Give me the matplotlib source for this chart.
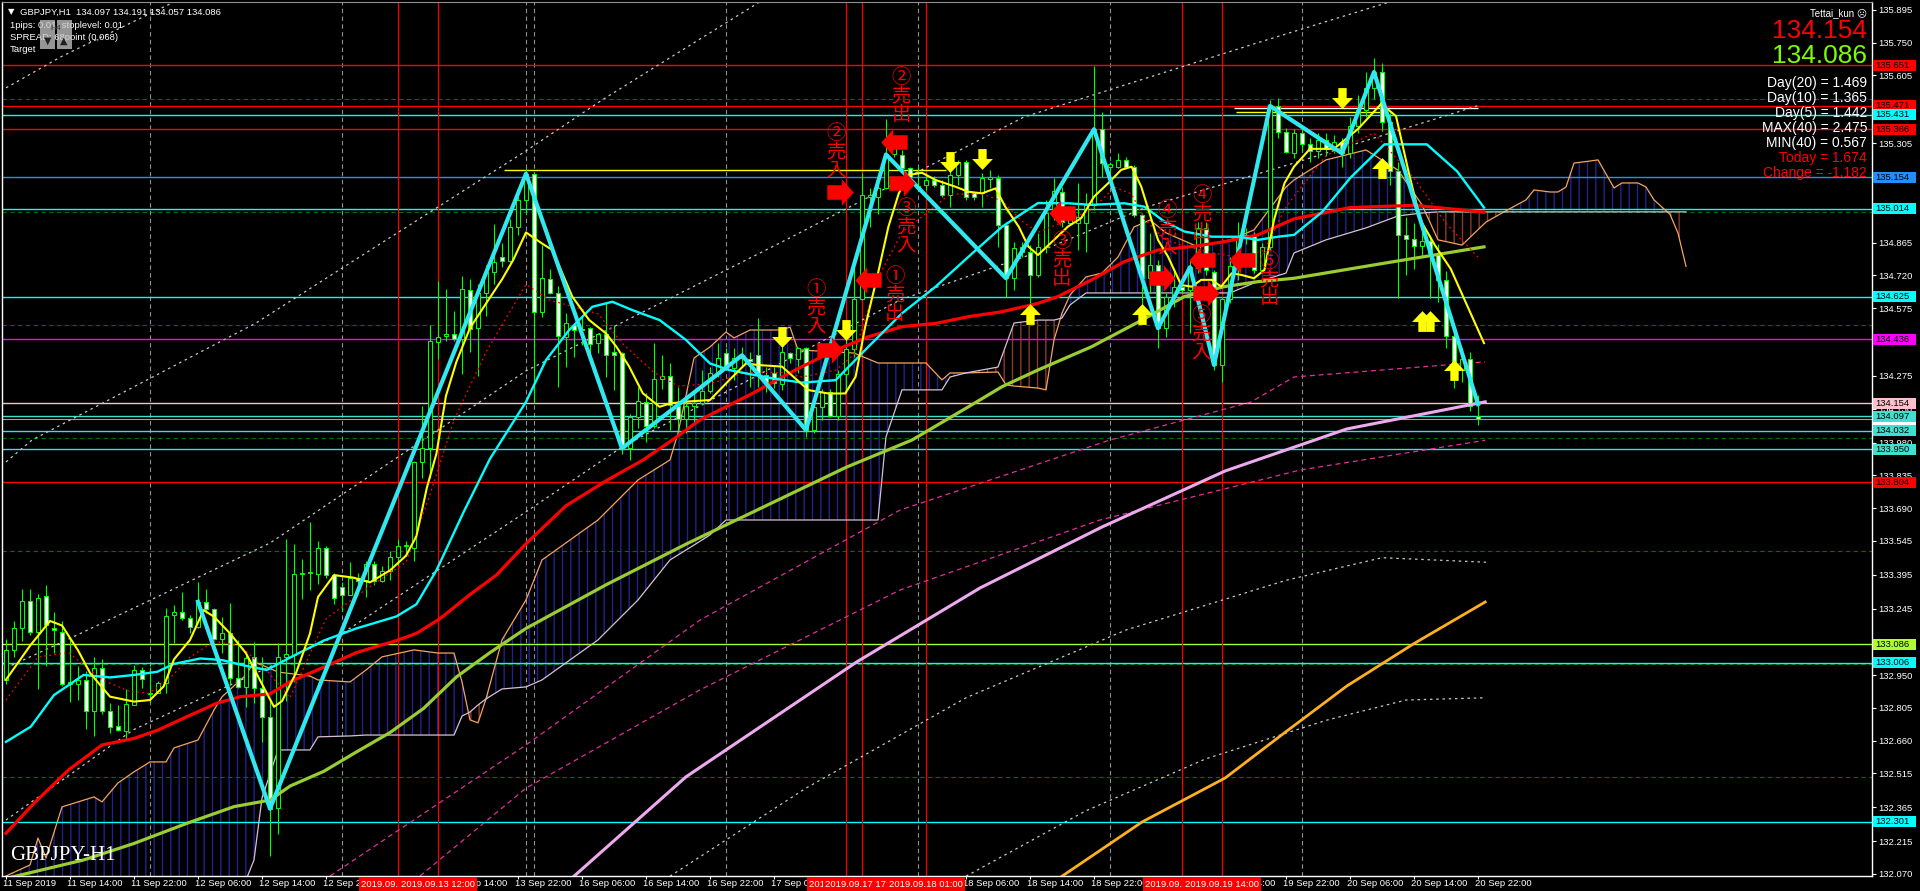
import numpy as np
import matplotlib
matplotlib.use('Agg')
import matplotlib.pyplot as plt
import matplotlib.transforms as mtransforms
from matplotlib.path import Path
from matplotlib.patches import Rectangle

plt.rcParams['font.family'] = ['Liberation Sans', 'DejaVu Sans']
plt.rcParams['hatch.linewidth'] = 1.0

# GBPJPY H1, bar 0 = 11 Sep 2019 06:00 (weekend bars skipped)
opens = [
    132.93, 133.06, 133.16, 133.28, 133.14, 133.30, 133.16, 133.14, 132.92, 132.91,
    132.93, 132.79, 132.98, 132.79, 132.725, 132.704, 132.818, 132.973, 132.873, 132.873,
    132.917, 133.218, 133.231, 133.202, 133.162, 133.275, 133.241, 133.109, 133.138, 132.936,
    132.899, 133.029, 132.892, 132.766, 132.363, 133.032, 133.039, 133.399, 133.404, 133.399,
    133.511, 133.393, 133.339, 133.307, 133.382, 133.371, 133.440, 133.367, 133.410, 133.474,
    133.522, 133.511, 133.893, 133.957, 134.427, 134.451, 134.460, 134.440, 134.653, 134.487,
    134.644, 134.734, 134.799, 134.784, 134.934, 135.052, 135.168, 134.558, 134.702, 134.643,
    134.445, 134.500, 134.484, 134.485, 134.419, 134.459, 134.379, 134.378, 133.954, 134.091,
    134.161, 134.053, 134.259, 134.276, 134.141, 134.082, 134.141, 134.156, 134.209, 134.289,
    134.374, 134.311, 134.355, 134.348, 134.367, 134.279, 134.286, 134.239, 134.374, 134.348,
    134.397, 134.035, 134.138, 134.205, 134.097, 134.283, 134.392, 134.614, 135.068, 135.068,
    135.105, 135.255, 135.252, 135.193, 135.105, 135.120, 135.142, 135.120, 135.075, 135.164,
    135.220, 135.083, 135.083, 135.145, 135.149, 134.943, 134.707, 134.847, 134.822, 134.722,
    134.844, 134.995, 135.091, 134.953, 134.953, 134.950, 135.032, 135.367, 135.201, 135.198,
    135.231, 135.198, 134.987, 134.707, 134.764, 134.486, 134.626, 134.670, 134.655, 134.751,
    134.930, 134.736, 134.323, 134.614, 134.762, 134.894, 134.900, 134.744, 134.844, 135.470,
    135.356, 135.26, 135.35, 135.30, 135.27, 135.32, 135.28, 135.31, 135.26, 135.38,
    135.45, 135.55, 135.62, 135.40, 135.18, 134.90, 134.88, 134.85, 134.87, 134.82,
    134.70, 134.45, 134.30, 134.35, 134.097]
highs = [
    133.11, 133.19, 133.33, 133.33, 133.31, 133.35, 133.23, 133.19, 133.12, 132.99,
    132.97, 133.03, 133.02, 132.825, 132.818, 132.887, 132.993, 132.988, 132.988, 132.926,
    133.246, 133.261, 133.320, 133.216, 133.364, 133.330, 133.246, 133.209, 133.268, 133.106,
    133.047, 133.097, 133.032, 132.835, 133.093, 133.554, 133.532, 133.464, 133.629, 133.543,
    133.522, 133.404, 133.361, 133.453, 133.404, 133.457, 133.457, 133.432, 133.500, 133.554,
    133.543, 133.897, 134.140, 134.502, 134.696, 134.659, 134.563, 134.717, 134.702, 134.681,
    134.766, 134.949, 134.863, 134.970, 135.067, 135.196, 135.171, 134.854, 134.746, 134.673,
    134.552, 134.510, 134.537, 134.493, 134.466, 134.596, 134.500, 134.382, 134.106, 134.227,
    134.198, 134.419, 134.367, 134.330, 134.227, 134.183, 134.198, 134.301, 134.316, 134.419,
    134.397, 134.397, 134.404, 134.382, 134.530, 134.316, 134.316, 134.401, 134.382, 134.401,
    134.404, 134.146, 134.219, 134.219, 134.301, 134.485, 134.758, 135.171, 135.105, 135.120,
    135.410, 135.304, 135.275, 135.201, 135.201, 135.171, 135.160, 135.142, 135.186, 135.230,
    135.230, 135.090, 135.171, 135.186, 135.164, 134.957, 134.869, 134.869, 134.854, 134.906,
    135.054, 135.150, 135.113, 135.017, 135.130, 135.083, 135.647, 135.445, 135.223, 135.260,
    135.246, 135.209, 134.995, 134.906, 134.788, 134.641, 134.744, 134.677, 134.788, 134.958,
    134.958, 134.744, 134.626, 134.803, 134.958, 134.930, 134.914, 134.862, 135.496, 135.504,
    135.371, 135.37, 135.38, 135.33, 135.35, 135.35, 135.34, 135.33, 135.42, 135.52,
    135.62, 135.68, 135.66, 135.44, 135.22, 134.98, 134.95, 134.92, 134.90, 134.86,
    134.74, 134.48, 134.40, 134.38, 134.191]
lows = [
    132.91, 133.03, 133.10, 133.13, 132.89, 132.99, 133.05, 132.90, 132.83, 132.84,
    132.71, 132.68, 132.78, 132.695, 132.704, 132.663, 132.818, 132.892, 132.833, 132.870,
    132.870, 133.091, 133.194, 133.135, 133.157, 133.224, 133.106, 133.047, 132.906, 132.892,
    132.811, 132.825, 132.656, 132.148, 132.245, 132.835, 132.921, 133.286, 133.329, 133.354,
    133.382, 133.264, 133.232, 133.303, 133.339, 133.296, 133.350, 133.361, 133.371, 133.436,
    133.479, 133.457, 133.822, 133.822, 134.348, 134.430, 134.430, 134.284, 134.380, 134.273,
    134.541, 134.681, 134.756, 134.777, 134.899, 135.002, 134.153, 134.534, 134.637, 134.227,
    134.313, 134.360, 134.411, 134.345, 134.375, 134.271, 134.212, 133.929, 133.902, 134.043,
    133.984, 134.043, 134.215, 134.035, 134.035, 134.020, 134.072, 134.146, 134.198, 134.268,
    134.301, 134.256, 134.316, 134.227, 134.227, 134.205, 134.220, 134.212, 134.330, 134.286,
    134.006, 134.020, 134.079, 134.094, 134.079, 134.197, 134.360, 134.611, 134.935, 134.992,
    135.100, 135.245, 135.186, 135.149, 135.098, 135.098, 135.112, 135.068, 135.021, 135.120,
    135.053, 135.053, 135.021, 135.105, 134.847, 134.625, 134.655, 134.802, 134.581, 134.714,
    134.818, 134.965, 134.936, 134.943, 134.832, 134.825, 135.009, 135.157, 135.172, 135.194,
    135.194, 134.980, 134.552, 134.640, 134.397, 134.449, 134.581, 134.641, 134.463, 134.729,
    134.720, 134.301, 134.250, 134.596, 134.700, 134.860, 134.729, 134.729, 134.832, 135.327,
    135.260, 135.24, 135.27, 135.22, 135.24, 135.25, 135.26, 135.20, 135.24, 135.35,
    135.42, 135.50, 135.36, 135.12, 134.62, 134.72, 134.75, 134.80, 134.62, 134.60,
    134.40, 134.22, 134.25, 134.12, 134.057]
closes = [
    133.06, 133.16, 133.28, 133.14, 133.29, 133.17, 133.15, 132.91, 132.91, 132.93,
    132.79, 132.98, 132.79, 132.72, 132.707, 132.821, 132.973, 132.932, 132.867, 132.914,
    133.213, 133.231, 133.202, 133.162, 133.275, 133.241, 133.109, 133.138, 132.936, 132.899,
    133.024, 132.892, 132.763, 132.359, 133.032, 133.043, 133.399, 133.404, 133.406, 133.511,
    133.393, 133.290, 133.307, 133.382, 133.367, 133.440, 133.365, 133.410, 133.474, 133.522,
    133.526, 133.893, 133.957, 134.430, 134.449, 134.460, 134.440, 134.659, 134.483, 134.644,
    134.734, 134.781, 134.784, 134.934, 135.052, 135.170, 134.558, 134.707, 134.640, 134.451,
    134.507, 134.478, 134.478, 134.416, 134.459, 134.367, 134.367, 133.954, 134.091, 134.165,
    134.053, 134.259, 134.274, 134.146, 134.082, 134.141, 134.156, 134.209, 134.289, 134.355,
    134.304, 134.355, 134.366, 134.342, 134.283, 134.242, 134.242, 134.379, 134.352, 134.397,
    134.035, 134.135, 134.205, 134.097, 134.283, 134.392, 134.614, 135.075, 135.075, 135.105,
    135.255, 135.282, 135.193, 135.157, 135.115, 135.142, 135.120, 135.075, 135.164, 135.220,
    135.068, 135.068, 135.149, 135.154, 134.943, 134.707, 134.842, 134.822, 134.721, 134.844,
    134.995, 135.095, 134.958, 134.973, 134.977, 135.032, 135.367, 135.216, 135.212, 135.231,
    135.198, 134.987, 134.707, 134.764, 134.486, 134.626, 134.670, 134.655, 134.756, 134.930,
    134.745, 134.323, 134.614, 134.762, 134.894, 134.900, 134.744, 134.844, 135.470, 135.356,
    135.268, 135.35, 135.30, 135.27, 135.32, 135.28, 135.31, 135.26, 135.38, 135.45,
    135.55, 135.62, 135.40, 135.18, 134.90, 134.88, 134.85, 134.87, 134.82, 134.70,
    134.45, 134.30, 134.35, 134.14, 134.086]

# indicator lines (bar index, price)
yellow_idx = [0, 3, 5.5, 7, 9, 10.5, 13, 16, 18, 19.7, 21, 23, 24.7, 26, 28, 30, 32.6, 33.5, 34.5,
              36.3, 38, 39, 41, 43.4, 45.5, 48, 50, 51.3, 52.6, 53.8, 55, 56.3, 58, 60, 62, 63.4,
              65, 67, 68.3, 70.8, 72.9, 75, 76.3, 77.9, 79.6, 81.7, 83, 85, 88, 90.4, 92.5, 94,
              97, 100.3, 102.8, 104.9, 106.2, 107.4, 109, 110.3, 111.6, 112.8, 114.5, 116.2,
              118.7, 120.3, 122, 123.7, 124.9, 126.6, 127.8, 129, 131, 132.75, 134.4, 136,
              137.75, 139.4, 140.7, 141.9, 143.2, 144, 145.25, 146.9, 148.2, 149.4, 150.7,
              151.9, 153.2, 154.4, 156, 157.3, 158.5, 159.8, 161, 163, 166, 169, 171.9, 173.75,
              175.3, 176.8, 178.6, 180.6, 183, 184.75]
yellow_val = [132.93, 133.08, 133.19, 133.17, 133.06, 132.96, 132.855, 132.833, 132.84, 132.9,
              133.02, 133.106, 133.238, 133.209, 133.135, 133.047, 132.87, 132.81, 132.835,
              132.964, 133.135, 133.296, 133.393, 133.382, 133.361, 133.414, 133.479, 133.565,
              133.779, 133.93, 134.187, 134.337, 134.487, 134.595, 134.702, 134.788, 134.91,
              134.861, 134.832, 134.625, 134.522, 134.463, 134.404, 134.316, 134.198, 134.138,
              134.153, 134.161, 134.168, 134.256, 134.33, 134.323, 134.316, 134.212, 134.197,
              134.197, 134.271, 134.493, 134.729, 134.935, 135.083, 135.164, 135.174, 135.142,
              135.112, 135.09, 135.083, 135.105, 135.024, 134.935, 134.847, 134.81, 134.877,
              134.936, 134.973, 135.068, 135.127, 135.187, 135.201, 135.113, 134.965, 134.877,
              134.803, 134.677, 134.67, 134.7, 134.7, 134.67, 134.729, 134.722, 134.707, 134.744,
              134.965, 135.127, 135.201, 135.28, 135.28, 135.368, 135.479, 135.425, 135.182,
              134.965, 134.854, 134.748, 134.558, 134.42]

cyan_idx = [0, 3.1, 6, 9.7, 13, 16, 18.9, 21, 24.3, 27, 29.5, 32.6, 35.5, 39.7, 43.8, 48.8, 51.3,
            53.8, 57.2, 60.5, 65, 67.5, 70.4, 73.3, 75.8, 78.3, 81.7, 85, 88, 90.4, 92.5, 95.8,
            99.5, 103.7, 107.8, 112, 116.2, 120.3, 124.5, 129, 132.75, 135.7, 139.8, 142.3,
            144.8, 147.3, 150.7, 154, 156.5, 159, 161, 164.5, 168, 172.3, 177.6, 181.4, 184.75]
cyan_val = [132.655, 132.722, 132.862, 132.951, 132.94, 132.951, 132.965, 133.0, 133.024, 133.017,
            132.995, 132.973, 133.028, 133.103, 133.157, 133.21, 133.264, 133.414, 133.672,
            133.908, 134.16, 134.345, 134.478, 134.581, 134.603, 134.566, 134.522, 134.434,
            134.33, 134.301, 134.286, 134.264, 134.245, 134.256, 134.404, 134.552, 134.67,
            134.802, 134.935, 135.04, 135.039, 135.032, 135.039, 135.024, 134.958, 134.914,
            134.891, 134.891, 134.877, 134.891, 134.899, 135.0, 135.15, 135.3, 135.3, 135.18,
            135.02]

red_idx = [0, 3.5, 7.8, 12, 16, 19, 22.6, 26.3, 29.3, 33, 35.5, 39.7, 43.8, 48.8, 51.3, 54.25, 58,
           61.3, 65, 70, 75, 79.6, 83.3, 86.7, 90, 93.3, 97, 99.5, 103.7, 107.8, 112, 116.2, 120.3,
           124.5, 129, 131.5, 135.7, 139.8, 144, 148.2, 152.3, 156.5, 161, 168, 176, 184.75]
red_val = [132.25, 132.383, 132.53, 132.641, 132.67, 132.707, 132.766, 132.825, 132.855, 132.867,
           132.921, 132.985, 133.05, 133.103, 133.135, 133.2, 133.307, 133.393, 133.532, 133.7,
           133.81, 133.902, 133.991, 134.079, 134.138, 134.197, 134.27, 134.316, 134.389, 134.448,
           134.493, 134.507, 134.537, 134.559, 134.596, 134.626, 134.7, 134.781, 134.832, 134.847,
           134.869, 134.899, 134.97, 135.02, 135.03, 135.0]

olive_idx = [0, 9.7, 16, 22.6, 28.5, 33, 35.5, 39.7, 43.8, 48, 52.2, 56.3, 60.5, 65, 75, 85, 95,
             105, 113.25, 120.3, 124.5, 129, 135.7, 142, 147.3, 152.3, 156.5, 161, 172.5, 184.75]
olive_val = [132.05, 132.132, 132.205, 132.294, 132.368, 132.397, 132.459, 132.524, 132.61,
             132.696, 132.803, 132.942, 133.05, 133.157, 133.35, 133.53, 133.7, 133.87, 133.991,
             134.138, 134.227, 134.301, 134.404, 134.522, 134.626, 134.67, 134.692, 134.707,
             134.775, 134.846]

pink_idx = [71, 85, 106.4, 121.75, 137, 152.4, 167.6, 184.9]
pink_val = [132.06, 132.5, 133.01, 133.336, 133.606, 133.854, 134.04, 134.16]

orange_idx = [132, 142, 152.4, 160, 167.6, 176, 184.9]
orange_val = [132.06, 132.3, 132.495, 132.7, 132.902, 133.09, 133.274]

reddot_idx = [0, 4, 7.8, 12, 15.3, 17.8, 20.3, 23, 26, 29.3, 32.6, 35.5, 40, 45, 50, 53, 56, 60,
              65, 68, 74, 77, 81, 84, 88, 92.5, 97, 99.5, 103.7, 106, 109, 112, 114.5, 118, 122,
              124.5, 127, 129, 135.7, 138.6, 140.7, 142.3, 144.8, 147.3, 150.7, 154, 157.3,
              159.8, 161, 165, 171, 176, 180, 184]
reddot_val = [132.84, 133.03, 133.05, 132.93, 132.88, 132.87, 132.93, 133.03, 133.1, 133.08,
              132.97, 132.85, 133.2, 133.33, 133.45, 133.75, 134.08, 134.38, 134.68, 134.61,
              134.55, 134.42, 134.29, 134.23, 134.24, 134.29, 134.29, 134.27, 134.30, 134.37,
              134.71, 134.91, 134.98, 135.08, 135.08, 135.05, 134.96, 134.91, 135.01, 135.11,
              135.08, 134.97, 134.88, 134.85, 134.82, 134.80, 134.83, 135.01, 135.07, 135.25,
              135.35, 135.15, 134.95, 134.8]

zigzag_idx = [24, 33, 65, 77, 92, 100, 110, 125, 136, 144, 148, 151, 158, 167, 171, 184]
zigzag_val = [133.275, 132.359, 135.170, 133.954, 134.366, 134.035, 135.255, 134.707, 135.367,
              134.486, 134.756, 134.323, 135.470, 135.26, 135.62, 134.15]

# dotted channel / envelope lines
w1_idx, w1_val = [0, 7, 21], [135.55, 135.69, 135.93]
w2_idx, w2_val = [0, 3.25, 31.25, 65, 74.5, 94.6], [133.894, 133.991, 134.509, 135.271, 135.496, 135.939]
w3_idx, w3_val = [0, 7.6, 33, 65, 97, 127.25, 156.4, 173.75], [132.982, 133.106, 133.535, 134.297, 134.868, 135.421, 135.749, 135.939]
w4_idx, w4_val = [0, 15.9, 42.1, 65, 77, 111.75, 129, 142.6, 161, 184.25], [132.309, 132.708, 133.137, 133.673, 133.960, 134.611, 134.823, 135.023, 135.217, 135.474]
l1_idx, l1_val = [83, 100, 120, 140, 160, 172, 185], [132.06, 132.45, 132.85, 133.15, 133.37, 133.47, 133.45]
l2_idx, l2_val = [120, 135, 150, 165, 175, 185], [132.06, 132.35, 132.58, 132.75, 132.84, 132.85]
m1_idx, m1_val = [40.5, 65, 86.75, 111.75, 138, 155.6, 161, 184.9], [132.061, 132.641, 133.194, 133.681, 133.991, 134.159, 134.27, 134.337]
m2_idx, m2_val = [51.75, 65, 86.75, 111.75, 136.75, 161.75, 184.9], [132.061, 132.45, 132.885, 133.327, 133.637, 133.858, 133.99]

# ichimoku cloud: span A (sandy brown) and span B (thistle)
cloud_idx = [0, 3, 4, 5, 7, 11, 12, 14, 16, 18, 20, 21, 24, 26, 27, 30, 31, 32, 34, 38, 39, 43, 45,
             47, 51, 54, 56, 57, 58, 59, 60, 62, 65, 67, 74, 79, 83, 84, 86, 88, 90, 91, 93, 97,
             98, 99, 106, 109, 110, 112, 115, 117, 118, 120, 124, 125, 126, 129, 130, 131, 132,
             133, 135, 137, 139, 141, 143, 145, 149, 153, 156, 160, 161, 165, 170, 174, 177, 179,
             182, 185, 187, 190, 191, 193, 194, 195, 196, 198, 199, 201, 202, 204, 205, 206, 208,
             209, 210]
span_a = [132.061, 132.110, 132.229, 132.141, 132.367, 132.411, 132.389, 132.473, 132.522, 132.566,
          132.566, 132.628, 132.663, 132.796, 132.854, 132.951, 133.008, 132.995, 132.964, 132.946,
          132.929, 132.920, 132.973, 133.031, 133.062, 133.048, 133.048, 132.920, 132.752, 132.739,
          132.845, 133.106, 133.283, 133.460, 133.637, 133.814, 133.903, 134.022, 134.354, 134.403,
          134.469, 134.443, 134.478, 134.478, 134.491, 134.390, 134.376, 134.332, 134.332, 134.332,
          134.332, 134.257, 134.288, 134.288, 134.292, 134.235, 134.230, 134.221, 134.213, 134.434,
          134.553, 134.633, 134.713, 134.730, 134.801, 134.934, 134.965, 134.908, 134.846, 134.877,
          134.921, 135.111, 135.142, 135.231, 135.275, 135.186, 135.032, 134.877, 134.854, 134.956,
          134.996, 135.054, 135.098, 135.089, 135.089, 135.111, 135.217, 135.226, 135.231, 135.107,
          135.129, 135.129, 135.111, 135.054, 134.990, 134.907, 134.760]
span_b = [131.955, 131.955, 131.955, 131.955, 131.955, 131.955, 131.955, 131.955, 131.955, 131.955,
          131.955, 131.955, 131.955, 131.955, 131.955, 132.043, 132.132, 132.406, 132.619, 132.619,
          132.677, 132.681, 132.685, 132.685, 132.685, 132.685, 132.685, 132.769, 132.787, 132.818,
          132.845, 132.889, 132.898, 132.929, 133.106, 133.283, 133.460, 133.482, 133.526, 133.571,
          133.637, 133.637, 133.637, 133.637, 133.637, 133.637, 133.637, 133.637, 134.005, 134.213,
          134.213, 134.213, 134.270, 134.288, 134.314, 134.412, 134.509, 134.522, 134.522, 134.522,
          134.531, 134.589, 134.642, 134.642, 134.642, 134.642, 134.642, 134.642, 134.642, 134.642,
          134.686, 134.730, 134.819, 134.877, 134.930, 134.983, 134.996, 135.001, 135.001, 135.001,
          135.001, 135.001, 135.001, 135.001, 135.001, 135.001, 135.001, 135.001, 135.001, 135.001,
          135.001, 135.001, 135.001, 135.001, 135.001, 135.001, 135.001]

# horizontal price levels with right-axis labels
level_prices = [135.651, 135.471, 135.431, 135.366, 135.154, 135.014, 134.625, 134.436, 134.154,
                134.097, 134.032, 133.950, 133.804, 133.086, 133.006, 132.301]
level_colors = ['#FF0000', '#FF0000', '#00FFFF', '#FF0000', '#1E90FF', '#00FFFF', '#00FFFF',
                '#FF00FF', '#FFC0CB', '#40E0D0', '#40E0D0', '#40E0D0', '#FF0000', '#ADFF2F',
                '#00FFFF', '#00FFFF']
round_levels = [132.5, 133.0, 133.5, 134.0, 134.5, 135.0, 135.5]
bid_price = 134.086

price_ticks = [135.895, 135.750, 135.605, 135.455, 135.305, 135.160, 135.010, 134.865, 134.720,
               134.575, 134.425, 134.275, 134.130, 133.980, 133.835, 133.690, 133.545, 133.395,
               133.245, 133.100, 132.950, 132.805, 132.660, 132.515, 132.365, 132.215, 132.070]
time_tick_idx = list(range(0, 185, 8))
time_tick_labels = ['11 Sep 2019', '11 Sep 14:00', '11 Sep 22:00', '12 Sep 06:00', '12 Sep 14:00',
                    '12 Sep 22:00', '13 Sep 06:00', '13 Sep 14:00', '13 Sep 22:00', '16 Sep 06:00',
                    '16 Sep 14:00', '16 Sep 22:00', '17 Sep 06:00', '17 Sep 14:00', '17 Sep 22:00',
                    '18 Sep 06:00', '18 Sep 14:00', '18 Sep 22:00', '19 Sep 06:00', '19 Sep 14:00',
                    '19 Sep 22:00', '20 Sep 06:00', '20 Sep 14:00', '20 Sep 22:00']
day_sep_idx = [18, 42, 65, 66, 90, 114, 138, 162]
vline_idx = [49, 54, 105, 107, 115, 147, 152]
vline_labels = ['2019.09.13 07:00', '2019.09.13 12:00', '2019.09.17 15:00', '2019.09.17 17:00',
                '2019.09.18 01:00', '2019.09.19 09:00', '2019.09.19 14:00']

# signal arrows
down_idx = [97, 105, 118, 122, 167]
down_val = [134.447, 134.478, 135.22, 135.235, 135.505]
up_idx = [128, 142, 172, 177, 178, 181]
up_val = [134.549, 134.549, 135.195, 134.518, 134.518, 134.301]
buy_idx = [103, 104.2, 112, 144.5, 150]
buy_val = [134.39, 135.09, 135.129, 134.708, 134.642]
sell_idx = [107.75, 111, 132, 149.5, 154.5]
sell_val = [134.70, 135.312, 134.996, 134.788, 134.788]

note_text = ['①\n売\n入', '②\n売\n入', '②\n売\n出', '③\n売\n入', '①\n売\n出',
             '③\n売\n出', '④\n売\n入', '④\n売\n出', '⑤\n売\n入', '⑤\n売\n出']
note_idx = [101.25, 103.75, 111.9, 112.5, 111.1, 132, 145.1, 149.5, 149.4, 157.9]
note_val = [134.576, 135.266, 135.514, 134.934, 134.633, 134.788, 134.925, 134.992, 134.460, 134.700]

info_lines = ['Day(20) = 1.469', 'Day(10) = 1.365', 'Day(5) = 1.442', 'MAX(40) = 2.475',
              'MIN(40) = 0.567', 'Today = 1.674', 'Change = -1.182']
info_colors = ['white'] * 5 + ['#FF0000', '#FF0000']

W, H = 1920, 891
fig = plt.figure(figsize=(W / 100, H / 100), dpi=100, facecolor='black')
ax = fig.add_axes([2 / W, 15 / H, 1870 / W, 874 / H], facecolor='black')
ax.set_xlim(-0.5, 233.25)
ax.set_ylim(132.061, 135.930)

# cloud
ci = np.array(cloud_idx)
sa = np.array(span_a)
sb = np.array(span_b)
ax.fill_between(ci, sa, sb, where=sa >= sb, interpolate=True, facecolor='none',
                edgecolor='#22228e', hatch='||', linewidth=0, zorder=1)
ax.fill_between(ci, sa, sb, where=sa < sb, interpolate=True, facecolor='none',
                edgecolor='#8a3a2a', hatch='||', linewidth=0, zorder=1)
ax.plot(ci, sa, color='#F4A460', lw=0.9, zorder=2)
ax.plot(ci, sb, color='#D8BFD8', lw=0.9, zorder=2)

# levels and separators
for p in round_levels:
    ax.axhline(p, color='#007000', lw=0.8, ls=(0, (4, 3)), zorder=1.5)
for p, c in zip(level_prices, level_colors):
    ax.axhline(p, color=c, lw=1.0, zorder=1.6)
ax.axhline(bid_price, color='#A0A0A0', lw=0.8, zorder=1.6)
for i in day_sep_idx:
    ax.axvline(i, color='#909090', lw=0.8, ls=(0, (4, 3)), zorder=1.5)
for i in vline_idx:
    ax.axvline(i, color='#FF0000', lw=0.9, zorder=1.6)
ax.hlines(135.186, 62.25, 117.5, color='#FFFF00', lw=1.0, zorder=1.7)
ax.hlines(135.443, 153.75, 172, color='#FFFF00', lw=1.0, zorder=1.7)
ax.hlines(135.461, 153.5, 184, color='white', lw=1.0, zorder=1.7)

# dotted envelopes
for xs, ys in [(w1_idx, w1_val), (w2_idx, w2_val), (w3_idx, w3_val), (w4_idx, w4_val),
               (l1_idx, l1_val), (l2_idx, l2_val)]:
    ax.plot(xs, ys, color='#C8C8C8', lw=0.9, ls=(0, (2, 3)), zorder=2)
for xs, ys in [(m1_idx, m1_val), (m2_idx, m2_val)]:
    ax.plot(xs, ys, color='#E0309A', lw=0.9, ls=(0, (4, 3)), zorder=2)

# candles
idx = np.arange(len(closes))
o = np.array(opens)
c = np.array(closes)
ax.vlines(idx, lows, highs, color='#00FF00', lw=0.8, zorder=5)
body_lo = np.minimum(o, c)
body_h = np.maximum(np.abs(c - o), 0.003)
ax.bar(idx, body_h, bottom=body_lo, width=0.55,
       color=np.where(c >= o, 'black', 'white'), edgecolor='#00FF00', linewidth=0.75, zorder=6)

# moving averages
ax.plot(pink_idx, pink_val, color='#EEAAEE', lw=2.2, zorder=7)
ax.plot(orange_idx, orange_val, color='#FFB020', lw=2.0, zorder=7)
ax.plot(olive_idx, olive_val, color='#9ACD32', lw=2.3, zorder=7)
ax.plot(red_idx, red_val, color='#FF0000', lw=2.3, zorder=7)
ax.plot(reddot_idx, reddot_val, color='#FF0000', lw=0.9, ls=(0, (1.5, 2.5)), zorder=7)
ax.plot(cyan_idx, cyan_val, color='#00FFFF', lw=1.7, zorder=7)
ax.plot(yellow_idx, yellow_val, color='#FFFF00', lw=1.5, zorder=7)
ax.plot(zigzag_idx, zigzag_val, color='#30E8F0', lw=3.0, zorder=8)

# arrows
down_path = Path([(-0.4, 1), (0.4, 1), (0.4, 0.05), (1, 0.05), (0, -1), (-1, 0.05), (-0.4, 0.05), (-0.4, 1)], closed=True)
up_path = Path([(x, -y) for x, y in down_path.vertices], closed=True)
right_path = Path([(-1, -0.55), (0.1, -0.55), (0.1, -1), (1, 0), (0.1, 1), (0.1, 0.55), (-1, 0.55), (-1, -0.55)], closed=True)
left_path = Path([(-x, y) for x, y in right_path.vertices], closed=True)
ax.plot(down_idx, down_val, ls='none', marker=down_path, ms=15, mfc='#FFFF00', mec='none', zorder=9)
ax.plot(up_idx, up_val, ls='none', marker=up_path, ms=15, mfc='#FFFF00', mec='none', zorder=9)
ax.plot(buy_idx, buy_val, ls='none', marker=right_path, ms=19, mfc='#FF0000', mec='none', zorder=9)
ax.plot(sell_idx, sell_val, ls='none', marker=left_path, ms=19, mfc='#FF0000', mec='none', zorder=9)

for t, xi, yv in zip(note_text, note_idx, note_val):
    ax.text(xi, yv, t, color='#FF0000', fontsize=14, ha='center', va='center', linespacing=0.82,
            family=['Noto Sans CJK JP', 'DejaVu Sans'], zorder=10)

# axes styling
for side in ['left', 'right', 'bottom']:
    ax.spines[side].set_color('white')
    ax.spines[side].set_linewidth(1)
ax.spines['top'].set_color('#909090')
ax.yaxis.tick_right()
ax.set_yticks(price_ticks)
ax.set_yticklabels(['%.3f' % p for p in price_ticks])
ax.tick_params(axis='y', colors='white', labelsize=6.8, length=3, width=0.8, pad=1.5)
ax.set_xticks(time_tick_idx)
ax.set_xticklabels(time_tick_labels, ha='left')
ax.tick_params(axis='x', colors='white', labelsize=6.8, length=2, width=0.8, pad=0.5)
shift = mtransforms.ScaledTranslation(-3 / 100, 0, fig.dpi_scale_trans)
for lab in ax.get_xticklabels():
    lab.set_transform(lab.get_transform() + shift)

# coloured level labels on the price axis
ytr = ax.get_yaxis_transform()
box_h = 11 / 225.9
for p, col in zip(level_prices, level_colors):
    ax.add_patch(Rectangle((1.0005, p - box_h / 2), 43 / 1870, box_h, transform=ytr,
                           facecolor=col, edgecolor='none', clip_on=False, zorder=19))
    ax.text(1.002, p, '%.3f' % p, transform=ytr, color='black', fontsize=6.8, va='center',
            ha='left', clip_on=False, zorder=20)
ax.add_patch(Rectangle((1.0005, bid_price - box_h / 2 - 0.01), 43 / 1870, box_h * 0.6, transform=ytr,
                       facecolor='white', edgecolor='none', clip_on=False, zorder=18.5))

# red time labels on the time axis
xtr = ax.get_xaxis_transform()
for i, lab in zip(vline_idx, vline_labels):
    ax.text(i, -0.0092, lab, transform=xtr, color='white', fontsize=6.8, ha='center', va='center',
            bbox=dict(boxstyle='square,pad=0.22', fc='#FF0000', ec='none'), clip_on=False, zorder=20)

# header text
fig.text(8 / W, 1 - 12 / H, '▼', color='white', fontsize=6, va='center', family='DejaVu Sans')
fig.text(20 / W, 1 - 12 / H, 'GBPJPY,H1  134.097 134.191 134.057 134.086', color='white',
         fontsize=6.8, va='center')
fig.text(10 / W, 1 - 25 / H, '1pips: 0.01  stoplevel: 0.01', color='white', fontsize=6.8, va='center')
fig.text(10 / W, 1 - 37 / H, 'SPREAD: 68point (0,068)', color='white', fontsize=6.8, va='center')
fig.text(10 / W, 1 - 50 / H, 'Target', color='white', fontsize=6.8, va='center')
for bx in [40, 57]:
    fig.patches.append(Rectangle((bx / W, 1 - 49 / H), 15 / W, 29 / H, transform=fig.transFigure,
                                 facecolor='#c8c8c8', alpha=0.75, edgecolor='none', zorder=30))
fig.text(56 / W, 1 - 29 / H, 'H4', color='#303030', fontsize=6, ha='center', va='center', zorder=31)
fig.text(48 / W, 1 - 41 / H, '▼', color='#202020', fontsize=7, ha='center', va='center',
         family='DejaVu Sans', zorder=31)
fig.text(64 / W, 1 - 41 / H, '▲', color='#202020', fontsize=7, ha='center', va='center',
         family='DejaVu Sans', zorder=31)

fig.text(1867 / W, 1 - 13 / H, 'Tettai_kun ☹', color='white', fontsize=7, ha='right', va='center')
fig.text(1867 / W, 1 - 31 / H, '134.154', color='#FF0000', fontsize=19, ha='right', va='center')
fig.text(1867 / W, 1 - 56 / H, '134.086', color='#7CFC00', fontsize=19, ha='right', va='center')
for k, (t, col) in enumerate(zip(info_lines, info_colors)):
    fig.text(1867 / W, 1 - (83 + 15 * k) / H, t, color=col, fontsize=10, ha='right', va='center')

fig.text(10 / W, 1 - 855 / H, 'GBPJPY-H1', color='white', fontsize=15, va='center',
         family='Liberation Serif')

fig.savefig('out.png', dpi=100, facecolor='black')
